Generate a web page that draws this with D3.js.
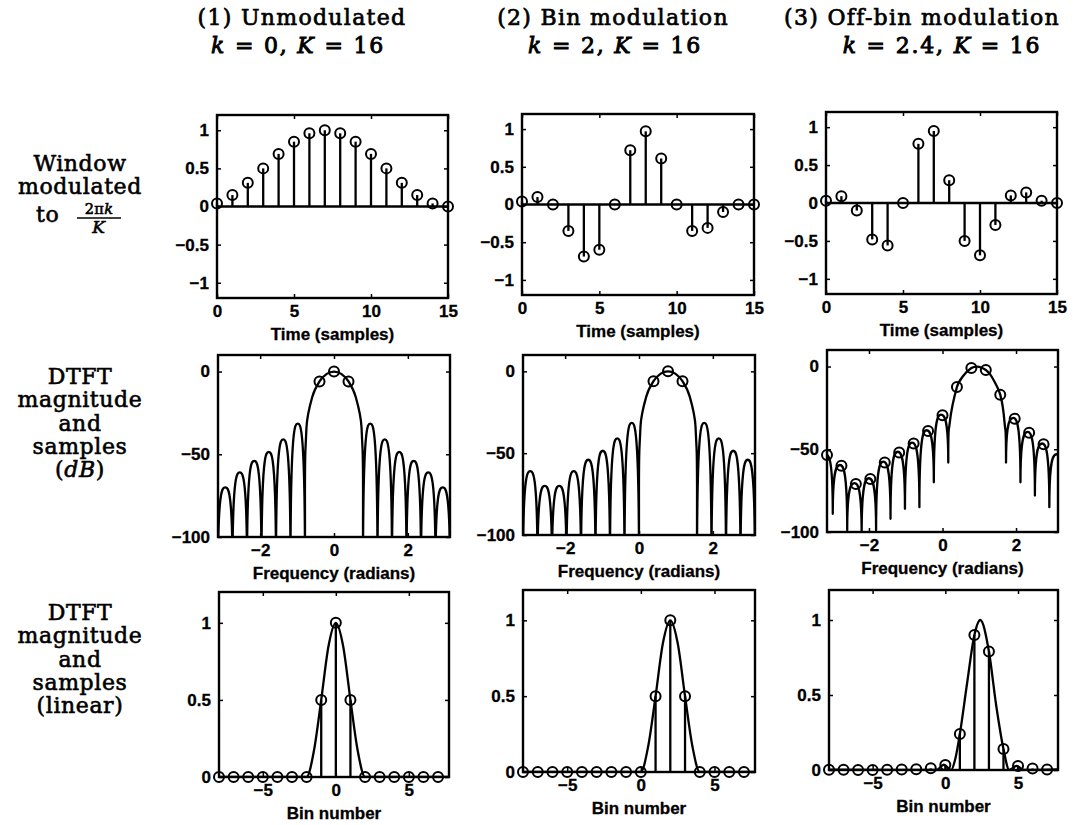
<!DOCTYPE html>
<html>
<head>
<meta charset="utf-8">
<script src="https://cdn.jsdelivr.net/npm/d3@7"></script>
<style>
  body { margin: 0; background: #fff; }
  svg { display: block; }
</style>
</head>
<body>
<svg id="chart" width="1079" height="825"></svg>
<script>
// ---------------------------------------------------------------
// Data
// ---------------------------------------------------------------
const K = 16;                       // DFT length / window length
const columnTitles = ["(1) Unmodulated", "(2) Bin modulation", "(3) Off-bin modulation"];
const columnK = ["0", "2", "2.4"];

// Row 1: window modulated to 2*pi*k/K (time samples 0..15)
const sampleTimes  = [0, 1, 2, 3, 4, 5, 6, 7, 8, 9, 10, 11, 12, 13, 14, 15];
const windowUnmod  = [0.04, 0.15, 0.31, 0.5, 0.69, 0.85, 0.96, 1, 0.96, 0.85, 0.69, 0.5, 0.31, 0.15, 0.04, 0];
const windowBin    = [0.04, 0.1, 0, -0.35, -0.69, -0.6, 0, 0.72, 0.97, 0.61, 0, -0.35, -0.31, -0.1, 0, 0];
const windowOffBin = [0.03, 0.09, -0.1, -0.48, -0.56, 0, 0.78, 0.95, 0.3, -0.5, -0.69, -0.29, 0.1, 0.14, 0.03, 0];

// Row 2: DTFT magnitude in dB, as [bin, dB] nulls / lobe tops (bin width 2*pi/K rad)
const dbCurveUnmod = [
  [-8, -120], [-7.5, -70], [-7, -120], [-6.5, -61], [-6, -120], [-5.5, -54], [-5, -120],
  [-4.5, -48.5], [-4, -120], [-3.5, -41], [-3, -120], [-2.5, -31.5], [-2, -120],
  [-1.9, -34], [-1.5, -15.4], [-1, -6], [-0.5, -1.4], [0, 0], [0.5, -1.4], [1, -6], [1.5, -15.4], [1.9, -34],
  [2, -120], [2.5, -31.5], [3, -120], [3.5, -41], [4, -120], [4.5, -48.5], [5, -120],
  [5.5, -54], [6, -120], [6.5, -61], [7, -120], [7.5, -70], [8, -120]
];
const dbCurveBin = [
  [-8, -120], [-7.5, -61], [-7, -120], [-6.5, -70], [-6, -120], [-5.5, -70], [-5, -120],
  [-4.5, -61], [-4, -120], [-3.5, -54], [-3, -120], [-2.5, -48.5], [-2, -120], [-1.5, -41],
  [-1, -120], [-0.5, -31.5], [0, -120],
  [0.1, -34], [0.5, -15.4], [1, -6], [1.5, -1.4], [2, 0], [2.5, -1.4], [3, -6], [3.5, -15.4], [3.9, -34],
  [4, -120], [4.5, -31.5], [5, -120], [5.5, -41], [6, -120], [6.5, -48.5], [7, -120], [7.5, -54], [8, -120]
];
const dbCurveOffBin = [
  [-8.6, -90], [-8.1, -53], [-7.6, -89], [-7.1, -59.5], [-6.6, -99], [-6.1, -70.5], [-5.6, -102],
  [-5.1, -67.5], [-4.6, -99], [-4.1, -57.5], [-3.6, -92], [-3.1, -51.5], [-2.6, -86], [-2.1, -46],
  [-1.6, -85], [-1.1, -38.5], [-0.6, -70], [-0.1, -29], [0.4, -58],
  [0.5, -34], [1, -12.4], [1.4, -6], [2, -0.9], [2.4, 0], [3, -2.1], [3.4, -6], [4, -17], [4.3, -34],
  [4.4, -58], [4.9, -31], [5.4, -70], [5.9, -39.5], [6.4, -78], [6.9, -46.5], [7.4, -85], [7.9, -53], [8.4, -90]
];
// dB samples at the DFT bins
const dbSampleBinsUnmod = [-1, 0, 1];
const dbSamplesUnmod    = [-6, 0, -6];
const dbSampleBinsBin   = [1, 2, 3];
const dbSamplesBin      = [-6, 0, -6];
const dbSampleBinsOff   = [-8, -7, -6, -5, -4, -3, -2, -1, 0, 1, 2, 3, 4, 5, 6, 7];
const dbSamplesOff      = [-53.5, -60, -71, -68, -58, -52, -46.5, -39, -29.5, -12.4, -0.9, -2.1, -17, -31.5, -40, -47];

// Row 3: DTFT magnitude, linear
const binNumbers   = [-8, -7, -6, -5, -4, -3, -2, -1, 0, 1, 2, 3, 4, 5, 6, 7];
const linSamplesUnmod = [0, 0, 0, 0, 0, 0, 0, 0.5, 1, 0.5, 0, 0, 0, 0, 0, 0];
const linSamplesBin   = [0, 0, 0, 0, 0, 0, 0, 0, 0, 0.5, 1, 0.5, 0, 0, 0, 0];
const linSamplesOff   = [0.002, 0.001, 0, 0, 0.001, 0.003, 0.005, 0.011, 0.033, 0.24, 0.9, 0.79, 0.14, 0.027, 0.01, 0.004];
const linCurveUnmod = [[-8, 0], [-2, 0], [-1.5, 0.17], [-1, 0.5], [-0.5, 0.85], [0, 1], [0.5, 0.85], [1, 0.5], [1.5, 0.17], [2, 0], [7.75, 0]];
const linCurveBin   = [[-8, 0], [0, 0], [0.5, 0.17], [1, 0.5], [1.5, 0.85], [2, 1], [2.5, 0.85], [3, 0.5], [3.5, 0.17], [4, 0], [7.75, 0]];
const linCurveOff   = [[-8, 0.002], [-0.6, 0], [-0.1, 0.035], [0.4, 0], [0.7, 0.08], [1, 0.24], [1.5, 0.58], [2, 0.9], [2.4, 1],
                       [3, 0.79], [3.5, 0.43], [4, 0.14], [4.4, 0], [4.9, 0.028], [5.4, 0], [7.75, 0.004]];

// Axis ticks
const timeTicks = [0, 5, 10, 15];
const ampTicks  = [-1, -0.5, 0, 0.5, 1];
const freqTicks = [-2, 0, 2];
const dbTicks   = [-100, -50, 0];
const binTicks  = [-5, 0, 5];
const linTicks  = [0, 0.5, 1];

// Row labels
const rowLabels = [
  ["Window", "modulated"],
  ["DTFT", "magnitude", "and", "samples", "(dB)"],
  ["DTFT", "magnitude", "and", "samples", "(linear)"]
];

// ---------------------------------------------------------------
// Layout: axes boxes [left, top, width, height] for each row / column
// ---------------------------------------------------------------
const boxes = [
  [[217, 115, 231, 183], [522, 114, 232, 181], [826, 112, 231, 182]],
  [[218, 355, 232, 182], [523, 355, 232, 180], [827, 350, 231, 182]],
  [[219, 592, 230, 185], [523, 590, 232, 182], [829, 590, 229, 180]]
];
const titleX1 = [302, 613, 922];
const titleX2 = [298, 615, 942];

const serif = '"DejaVu Serif", serif';
const sans = '"Liberation Sans", Arial, sans-serif';
const LW = 2.3;        // line width
const R = 5;           // marker radius

const svg = d3.select("#chart");
svg.append("rect").attr("width", 1079).attr("height", 825).attr("fill", "#fff");

// ---------------------------------------------------------------
// Lobe curve: vertical tangents at nulls, flat tangents at lobe tops,
// smooth tangents through points on the flanks.
// ---------------------------------------------------------------
function LobeCurve(context) { this._context = context; }
LobeCurve.prototype = {
  areaStart() {}, areaEnd() {},
  lineStart() { this._pts = []; },
  point(x, y) { this._pts.push([+x, +y]); },
  lineEnd() {
    const p = this._pts, n = p.length, c = this._context;
    if (!n) return;
    const info = p.map((q, i) => {
      const a = p[i - 1], b = p[i + 1];
      const higher = r => !r || r[1] < q[1];
      const lower = r => !r || r[1] > q[1];
      if (higher(a) && higher(b)) return { kind: "null" };
      if (lower(a) && lower(b)) return { kind: "top" };
      const dx = b[0] - a[0], dy = b[1] - a[1], len = Math.hypot(dx, dy);
      return { kind: "flank", ux: dx / len, uy: dy / len };
    });
    const handle = (t, dx, dy, s) => {
      if (t.kind === "null") return [0, s * dy];
      if (t.kind === "top") return [s * 0.37 * dx, 0];
      const L = Math.hypot(dx, dy) / 3;
      return [s * t.ux * L, s * t.uy * L];
    };
    c.moveTo(p[0][0], p[0][1]);
    for (let i = 0; i < n - 1; i++) {
      const a = p[i], b = p[i + 1];
      const dx = b[0] - a[0], dy = b[1] - a[1];
      const h1 = handle(info[i], dx, dy, 1), h2 = handle(info[i + 1], dx, dy, -1);
      c.bezierCurveTo(a[0] + h1[0], a[1] + h1[1], b[0] + h2[0], b[1] + h2[1], b[0], b[1]);
    }
  }
};
const curveLobes = ctx => new LobeCurve(ctx);

// ---------------------------------------------------------------
// Helpers
// ---------------------------------------------------------------
let clipId = 0;
function makePanel(row, col) {
  const [left, top, w, h] = boxes[row][col];
  const g = svg.append("g").attr("transform", `translate(${left},${top})`);
  const id = "clip" + (clipId++);
  g.append("clipPath").attr("id", id).append("rect").attr("width", w).attr("height", h);
  return { g, w, h, clip: `url(#${id})` };
}

function drawAxes(p, x, y, xTicks, yTicks, xLabel) {
  const { g, w, h } = p;
  const fmt = d3.format("");
  g.append("g").attr("transform", `translate(0,${h})`)
    .call(d3.axisBottom(x).tickValues(xTicks).tickFormat(fmt).tickSizeInner(-4).tickSizeOuter(0).tickPadding(7));
  g.append("g")
    .call(d3.axisLeft(y).tickValues(yTicks).tickFormat(fmt).tickSizeInner(-4).tickSizeOuter(0).tickPadding(8));
  g.append("g")
    .call(d3.axisTop(x).tickValues(xTicks).tickFormat("").tickSizeInner(-4).tickSizeOuter(0));
  g.append("g").attr("transform", `translate(${w},0)`)
    .call(d3.axisRight(y).tickValues(yTicks).tickFormat("").tickSizeInner(-4).tickSizeOuter(0));
  g.selectAll(".domain").remove();
  g.selectAll(".tick line").attr("stroke", "#000").attr("stroke-width", 1.5);
  g.selectAll(".tick text")
    .attr("font-family", sans).attr("font-weight", "bold").attr("font-size", 17).attr("fill", "#000")
    .attr("stroke", "#000").attr("stroke-width", 0.3);
  g.append("rect").attr("width", w).attr("height", h)
    .attr("fill", "none").attr("stroke", "#000").attr("stroke-width", 2.4);
  g.append("text").attr("x", w / 2).attr("y", h + 42).attr("text-anchor", "middle")
    .attr("font-family", sans).attr("font-weight", "bold").attr("font-size", 17)
    .attr("stroke", "#000").attr("stroke-width", 0.3)
    .text(xLabel);
}

function drawMarkers(g, xs, ys, x, y) {
  g.append("g").selectAll("circle").data(xs).join("circle")
    .attr("cx", d => x(d)).attr("cy", (d, i) => y(ys[i])).attr("r", R)
    .attr("fill", "none").attr("stroke", "#000").attr("stroke-width", 2);
}

function drawStems(g, xs, ys, x, y) {
  g.append("g").selectAll("line").data(xs).join("line")
    .attr("x1", d => x(d)).attr("x2", d => x(d))
    .attr("y1", y(0)).attr("y2", (d, i) => y(ys[i]))
    .attr("stroke", "#000").attr("stroke-width", LW);
}

// ---------------------------------------------------------------
// Row 1: modulated windows (stem plots)
// ---------------------------------------------------------------
[windowUnmod, windowBin, windowOffBin].forEach((vals, col) => {
  const p = makePanel(0, col);
  const x = d3.scaleLinear().domain([0, 15]).range([0, p.w]);
  const y = d3.scaleLinear().domain([-1.2, 1.2]).range([p.h, 0]);
  p.g.append("line").attr("x1", x(0)).attr("x2", x(15)).attr("y1", y(0)).attr("y2", y(0))
    .attr("stroke", "#000").attr("stroke-width", LW);
  drawStems(p.g, sampleTimes, vals, x, y);
  drawAxes(p, x, y, timeTicks, ampTicks, "Time (samples)");
  drawMarkers(p.g, sampleTimes, vals, x, y);
});

// ---------------------------------------------------------------
// Row 2: DTFT magnitude (dB) with samples
// ---------------------------------------------------------------
const binToRad = b => b * 2 * Math.PI / K;
[[dbCurveUnmod, dbSampleBinsUnmod, dbSamplesUnmod],
 [dbCurveBin, dbSampleBinsBin, dbSamplesBin],
 [dbCurveOffBin, dbSampleBinsOff, dbSamplesOff]].forEach(([curve, sBins, sVals], col) => {
  const p = makePanel(1, col);
  const x = d3.scaleLinear().domain([-Math.PI, Math.PI]).range([0, p.w]);
  const y = d3.scaleLinear().domain([-100, 10]).range([p.h, 0]);
  const line = d3.line().x(d => x(binToRad(d[0]))).y(d => y(d[1])).curve(curveLobes);
  p.g.append("path").attr("d", line(curve)).attr("clip-path", p.clip)
    .attr("fill", "none").attr("stroke", "#000").attr("stroke-width", LW).attr("stroke-linejoin", "round");
  drawAxes(p, x, y, freqTicks, dbTicks, "Frequency (radians)");
  drawMarkers(p.g, sBins.map(binToRad), sVals, x, y);
});

// ---------------------------------------------------------------
// Row 3: DTFT magnitude (linear) with samples
// ---------------------------------------------------------------
[[linCurveUnmod, linSamplesUnmod], [linCurveBin, linSamplesBin], [linCurveOff, linSamplesOff]].forEach(([curve, vals], col) => {
  const p = makePanel(2, col);
  const x = d3.scaleLinear().domain([-8, 7.75]).range([0, p.w]);
  const y = d3.scaleLinear().domain([0, 1.2]).range([p.h, 0]);
  const line = d3.line().x(d => x(d[0])).y(d => y(d[1])).curve(d3.curveMonotoneX);
  p.g.append("path").attr("d", line(curve)).attr("clip-path", p.clip)
    .attr("fill", "none").attr("stroke", "#000").attr("stroke-width", LW);
  drawStems(p.g, binNumbers, vals, x, y);
  drawAxes(p, x, y, binTicks, linTicks, "Bin number");
  drawMarkers(p.g, binNumbers, vals, x, y);
});

// ---------------------------------------------------------------
// Column titles
// ---------------------------------------------------------------
const titleStyle = t => t.attr("font-family", serif).attr("font-size", 22).attr("fill", "#000")
  .attr("stroke", "#000").attr("stroke-width", 0.7).attr("text-anchor", "middle");
columnTitles.forEach((t, i) => {
  svg.append("text").call(titleStyle).attr("x", titleX1[i]).attr("y", 25)
    .attr("letter-spacing", 1.3).text(t);
  const m = svg.append("text").call(titleStyle).attr("x", titleX2[i]).attr("y", 53)
    .attr("stroke-width", 0.9).attr("letter-spacing", 1.8);
  m.append("tspan").attr("font-style", "italic").text("k");
  m.append("tspan").text(" = " + columnK[i] + ", ");
  m.append("tspan").attr("font-style", "italic").text("K");
  m.append("tspan").text(" = " + K);
});

// ---------------------------------------------------------------
// Row labels
// ---------------------------------------------------------------
const rowBase = [171, 384, 620];
const labelStyle = t => t.attr("font-family", serif).attr("font-size", 22).attr("fill", "#000")
  .attr("stroke", "#000").attr("stroke-width", 0.6).attr("text-anchor", "middle").attr("letter-spacing", 0.6);
rowLabels.forEach((lines, r) => {
  lines.forEach((s, j) => {
    const t = svg.append("text").call(labelStyle).attr("x", 80).attr("y", rowBase[r] + j * 23.3);
    const m = s.match(/^\((dB)\)$/);
    if (m) {
      t.append("tspan").text("(");
      t.append("tspan").attr("font-style", "italic").text(m[1]);
      t.append("tspan").text(")");
    } else {
      t.text(s);
    }
  });
});
// "to 2πk/K" with a built-up fraction
{
  const yb = 222;
  svg.append("text").call(labelStyle).attr("text-anchor", "start").attr("x", 36).attr("y", yb).text("to");
  const num = svg.append("text").call(labelStyle).attr("font-size", 14.5).attr("letter-spacing", 0.3)
    .attr("x", 99).attr("y", yb - 8);
  num.append("tspan").text("2π");
  num.append("tspan").attr("font-style", "italic").text("k");
  svg.append("line").attr("x1", 77).attr("x2", 121).attr("y1", yb - 4).attr("y2", yb - 4)
    .attr("stroke", "#000").attr("stroke-width", 1.6);
  svg.append("text").call(labelStyle).attr("font-size", 17).attr("font-style", "italic")
    .attr("x", 99).attr("y", yb + 11).text("K");
}
</script>
</body>
</html>
